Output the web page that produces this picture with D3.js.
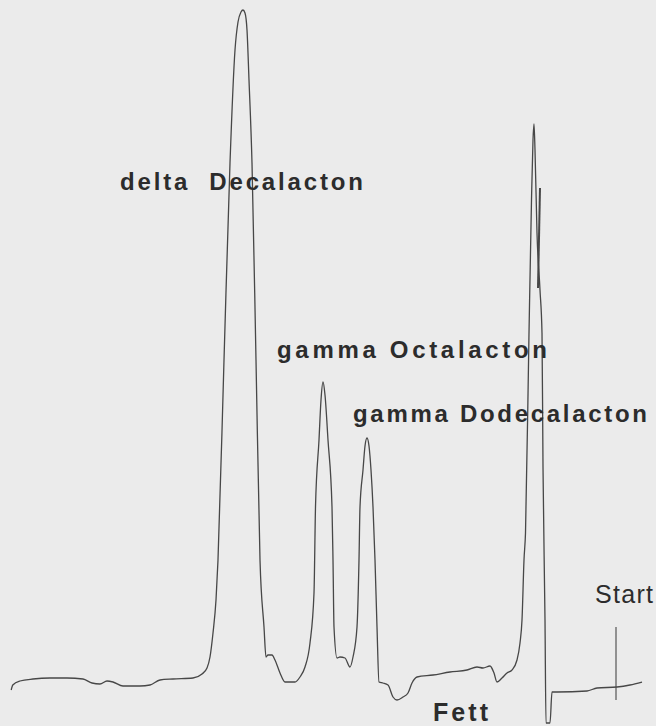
<!DOCTYPE html>
<html>
<head>
<meta charset="utf-8">
<script src="https://cdn.jsdelivr.net/npm/d3@7"></script>
<style>
  body { margin: 0; background: #ebebeb; }
  svg { display: block; }
  .trace { fill: none; stroke: #474747; stroke-width: 1.3; stroke-linejoin: round; }
  .label { fill: #2c2c2c; font-family: "Liberation Sans", Arial, sans-serif; white-space: pre; }
</style>
</head>
<body>
<div id="chart"></div>
<script>
// chromatogram, time runs right to left from the Start mark

var traceTime = [30.24, 30.16, 29.8, 29.15, 28.3, 27.45, 26.65, 26.2, 25.8, 25.45,
                 25.15, 24.65, 23.8, 23.3, 22.8, 22.15, 21.15, 20.7, 20.45, 20.3,
                 20.15, 20.0, 19.9, 19.6, 19.3, 19.05, 18.9, 18.75, 18.65, 18.55,
                 18.45, 18.35, 18.2, 18.0, 17.8, 17.6, 17.5, 17.4, 17.2, 17.05,
                 16.8, 16.55, 16.05, 15.8, 15.55, 15.3, 15.1, 15.025, 14.85, 14.75,
                 14.65, 14.55, 14.4, 14.2, 14.15, 14.1, 13.95, 13.8, 13.55, 13.3,
                 13.15, 12.95, 12.85, 12.8, 12.65, 12.55, 12.45, 12.35, 12.25, 12.15,
                 12.05, 11.95, 11.85, 11.65, 11.4, 11.15, 10.95, 10.65, 10.4, 10.2,
                 9.95, 9.15, 8.3, 7.45, 6.95, 6.65, 6.3, 6.1, 5.95, 5.7,
                 5.45, 5.2, 4.95, 4.8, 4.7, 4.6, 4.525, 4.35, 4.225, 4.15,
                 4.1, 4.05, 3.95, 3.8, 3.7, 3.65, 3.55, 3.5, 3.3, 3.2,
                 2.95, 1.45, 0.95, -0.05, -0.7, -1.3]

var traceSignal = [0, 1, 1.8, 2.2, 2.4, 2.4, 2.2, 1.4, 1.2, 1.8,
                   1.6, 0.8, 0.8, 1, 2, 2.2, 2.4, 3.2, 4.4, 6.6,
                   11.4, 18, 26, 66, 105.4, 128, 133.6, 135.6, 136, 135.4,
                   132, 122, 105.4, 66, 26, 12.6, 6.6, 7, 7, 6,
                   3.4, 1.6, 1.6, 2.6, 4.6, 9.4, 19.4, 36.6, 50, 58,
                   61.6, 59, 50, 36.6, 26, 12.6, 6.4, 6.6, 6.4, 4.6,
                   6.6, 12.6, 26, 36.6, 44, 48.8, 50.4, 48.8, 44, 36.6,
                   26, 12.6, 1.6, 1.4, 1, -1.4, -2, -1.4, -0.6, 1.4,
                   2.6, 3, 3.6, 4, 4.6, 4.4, 4.8, 3.4, 1.6, 2.4,
                   3.4, 4, 6, 9.4, 14, 26, 31.4, 71.4, 98, 110,
                   113.2, 108, 91.4, 80, 71.4, 44.6, 14, -6.6, -6.6, -0.4,
                   -0.4, -0.2, 0.4, 0.6, 1, 1.6]

// short pen stroke on the right flank of the solvent peak
var penTime = [3.8, 3.9]
var penSignal = [100.4, 80.4]

// injection mark
var startTime = [0, 0]
var startSignal = [-2, 12.6]

var labelText = ['delta  Decalacton', 'gamma Octalacton', 'gamma Dodecalacton', 'Start', 'Fett']
var labelTime = [24.8, 16.95, 13.15, 1.05, 9.15]
var labelSignal = [100, 66.4, 53.6, 17.4, -6.2]

var labelStyles = [
  {size: 24, weight: 'bold', length: 243},
  {size: 24, weight: 'bold', length: 270},
  {size: 24, weight: 'bold', length: 294},
  {size: 25, weight: 'normal', length: 58},
  {size: 25, weight: 'bold', length: 55}
]

var width = 656,
    height = 726

var xScale = d3.scaleLinear()
               .domain([0, 31])
               .range([616, -4])

var yScale = d3.scaleLinear()
               .domain([0, 136])
               .range([690, 10])

function zipPoints(ts, ss) {
  return ts.map(function(t, i) { return {t: t, s: ss[i]} })
}

var line = d3.line()
             .x(function(d) { return xScale(d.t) })
             .y(function(d) { return yScale(d.s) })
             .curve(d3.curveMonotoneX)

var straight = d3.line()
                 .x(function(d) { return xScale(d.t) })
                 .y(function(d) { return yScale(d.s) })

var svg = d3.select('#chart')
  .append('svg')
    .attr('width', width)
    .attr('height', height)

svg.append('rect')
   .attr('width', width)
   .attr('height', height)
   .style('fill', '#ebebeb')

svg.append('path')
   .datum(zipPoints(traceTime, traceSignal))
   .classed('trace', true)
   .attr('d', line)

svg.append('path')
   .datum(zipPoints(penTime, penSignal))
   .classed('trace', true)
   .style('stroke-width', 2)
   .attr('d', straight)

svg.append('path')
   .datum(zipPoints(startTime, startSignal))
   .classed('trace', true)
   .style('stroke-width', 1.1)
   .attr('d', straight)

svg.selectAll('text.label').data(labelText)
  .enter().append('text')
    .classed('label', true)
    .text(function(d) { return d })
    .attr('x', function(d, i) { return xScale(labelTime[i]) })
    .attr('y', function(d, i) { return yScale(labelSignal[i]) })
    .style('font-size', function(d, i) { return labelStyles[i].size + 'px' })
    .style('font-weight', function(d, i) { return labelStyles[i].weight })
    .attr('textLength', function(d, i) { return labelStyles[i].length })
    .attr('lengthAdjust', 'spacing')
</script>
</body>
</html>
